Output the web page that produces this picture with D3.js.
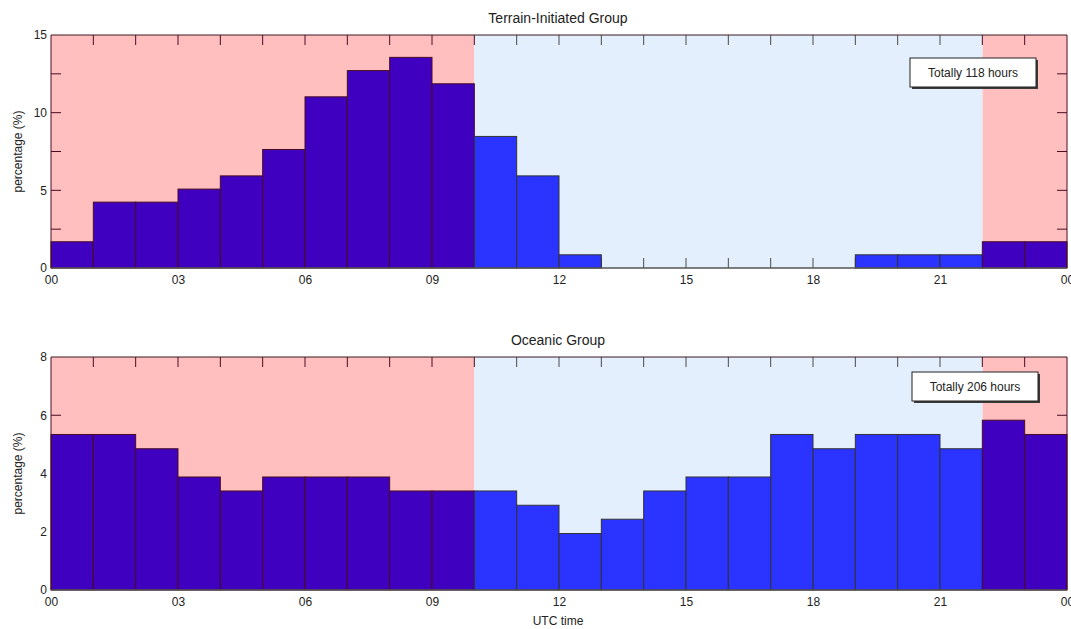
<!DOCTYPE html>
<html>
<head>
<meta charset="utf-8">
<script src="https://cdn.jsdelivr.net/npm/d3@7"></script>
<style>
  body { margin: 0; background: #fff; }
  text { font-family: "Liberation Sans", Arial, sans-serif; fill: #222; }
</style>
</head>
<body>
<div id="chart"></div>
<script>
// hour bins (UTC) and percentage of hours per bin
var hours = [0,1,2,3,4,5,6,7,8,9,10,11,12,13,14,15,16,17,18,19,20,21,22,23];
var terrainPct = [1.69,4.24,4.24,5.08,5.93,7.63,11.02,12.71,13.56,11.86,8.47,5.93,
                  0.85,0,0,0,0,0,0,0.85,0.85,0.85,1.69,1.69];
var oceanicPct = [5.34,5.34,4.85,3.88,3.40,3.88,3.88,3.88,3.40,3.40,3.40,2.91,
                  1.94,2.43,3.40,3.88,3.88,5.34,4.85,5.34,5.34,4.85,5.83,5.34];
var xTicks = [0,3,6,9,12,15,18,21,24];
var xTickLabels = ["00","03","06","09","12","15","18","21","00"];
var nightSpans = [[0,10],[22,24]];
var daySpans = [[10,22]];

var pink = "#ffbfbf", lightBlue = "#e3effc",
    purple = "#3f00bf", blue = "#2a33ff",
    maroon = "#4a0c22", gray = "#4a4a4a";

var W = 1071, H = 629;
var svg = d3.select("#chart").append("svg")
    .attr("width", W).attr("height", H);

function isNight(h) {
  return nightSpans.some(function(s) { return h >= s[0] && h < s[1]; });
}

function panel(cfg) {
  var x = d3.scaleLinear().domain([0,24]).range([51,1067]);
  var y = d3.scaleLinear().domain([0,cfg.ymax]).range([cfg.bottom,cfg.top]);
  var g = svg.append("g");

  // background spans
  g.selectAll("rect.night").data(nightSpans).enter().append("rect")
    .attr("x", function(d) { return x(d[0]); })
    .attr("width", function(d) { return x(d[1]) - x(d[0]); })
    .attr("y", cfg.top).attr("height", cfg.bottom - cfg.top)
    .attr("fill", pink);
  g.selectAll("rect.day").data(daySpans).enter().append("rect")
    .attr("x", function(d) { return x(d[0]); })
    .attr("width", function(d) { return x(d[1]) - x(d[0]); })
    .attr("y", cfg.top).attr("height", cfg.bottom - cfg.top)
    .attr("fill", lightBlue);

  // ticks (drawn under the bars)
  var tl = 10;
  g.selectAll("line.tt").data(hours.slice(1)).enter().append("line")
    .attr("x1", function(d) { return x(d); }).attr("x2", function(d) { return x(d); })
    .attr("y1", cfg.top).attr("y2", cfg.top + tl)
    .attr("stroke", function(d) { return isNight(d) || d == 10 ? maroon : gray; });
  g.selectAll("line.bt").data(hours.slice(1)).enter().append("line")
    .attr("x1", function(d) { return x(d); }).attr("x2", function(d) { return x(d); })
    .attr("y1", cfg.bottom).attr("y2", cfg.bottom - tl)
    .attr("stroke", function(d) { return isNight(d) ? maroon : gray; });
  g.selectAll("line.lt").data(cfg.yMinor).enter().append("line")
    .attr("x1", x(0)).attr("x2", x(0) + tl)
    .attr("y1", function(d) { return y(d); }).attr("y2", function(d) { return y(d); })
    .attr("stroke", maroon);
  g.selectAll("line.rt").data(cfg.yMinor).enter().append("line")
    .attr("x1", x(24)).attr("x2", x(24) - tl)
    .attr("y1", function(d) { return y(d); }).attr("y2", function(d) { return y(d); })
    .attr("stroke", maroon);

  // bars
  g.selectAll("rect.bar").data(cfg.values).enter().append("rect")
    .attr("x", function(d, i) { return x(hours[i]); })
    .attr("width", function(d, i) { return x(hours[i] + 1) - x(hours[i]); })
    .attr("y", function(d) { return y(d); })
    .attr("height", function(d) { return cfg.bottom - y(d); })
    .attr("fill", function(d, i) { return isNight(hours[i]) ? purple : blue; })
    .attr("stroke", function(d, i) { return isNight(hours[i]) ? maroon : "#333"; })
    .attr("stroke-width", 1)
    .style("display", function(d) { return d > 0 ? null : "none"; });

  // frame
  g.append("line").attr("x1", x(0)).attr("x2", x(24))
    .attr("y1", cfg.top).attr("y2", cfg.top).attr("stroke", "#3a1a22");
  g.append("line").attr("x1", x(0)).attr("x2", x(24))
    .attr("y1", cfg.bottom).attr("y2", cfg.bottom).attr("stroke", "#555").attr("stroke-width", 1.5);
  g.append("line").attr("x1", x(0)).attr("x2", x(0))
    .attr("y1", cfg.top).attr("y2", cfg.bottom).attr("stroke", maroon);
  g.append("line").attr("x1", x(24)).attr("x2", x(24))
    .attr("y1", cfg.top).attr("y2", cfg.bottom).attr("stroke", maroon);

  // axes labels via d3 axes (no tick lines, labels only)
  var ax = g.append("g").attr("transform", "translate(0," + cfg.bottom + ")")
    .call(d3.axisBottom(x).tickValues(xTicks)
      .tickFormat(function(d, i) { return xTickLabels[i]; })
      .tickSize(0).tickPadding(7));
  ax.select(".domain").remove();
  ax.selectAll("text").attr("font-size", 12).attr("font-family", "Liberation Sans, Arial, sans-serif").attr("fill", "#222");

  var ay = g.append("g").attr("transform", "translate(" + x(0) + ",0)")
    .call(d3.axisLeft(y).tickValues(cfg.yLabels).tickFormat(d3.format("d"))
      .tickSize(0).tickPadding(4));
  ay.select(".domain").remove();
  ay.selectAll("text").attr("font-size", 12).attr("font-family", "Liberation Sans, Arial, sans-serif").attr("fill", "#222");

  // titles
  g.append("text").attr("x", 558).attr("y", cfg.top - 12)
    .attr("text-anchor", "middle").attr("font-size", 14).text(cfg.title);
  g.append("text")
    .attr("transform", "translate(22," + (cfg.top + cfg.bottom) / 2 + ") rotate(-90)")
    .attr("text-anchor", "middle").attr("font-size", 12).text("percentage (%)");

  // total box
  var b = cfg.box;
  g.append("rect").attr("x", b.x + 2).attr("y", b.y + 2).attr("width", b.w).attr("height", b.h)
    .attr("fill", "#3a3a3a");
  g.append("rect").attr("x", b.x).attr("y", b.y).attr("width", b.w).attr("height", b.h)
    .attr("fill", "#fff").attr("stroke", "#222");
  g.append("text").attr("x", b.x + b.w / 2).attr("y", b.y + b.h / 2 + 4)
    .attr("text-anchor", "middle").attr("font-size", 12).text(b.text);
}

panel({ top: 35, bottom: 268, ymax: 15, values: terrainPct,
        yLabels: [0,5,10,15], yMinor: [2.5,5,7.5,10,12.5],
        title: "Terrain-Initiated Group",
        box: { x: 910, y: 58, w: 126, h: 29, text: "Totally 118 hours" } });
panel({ top: 357, bottom: 590, ymax: 8, values: oceanicPct,
        yLabels: [0,2,4,6,8], yMinor: [2,4,6],
        title: "Oceanic Group",
        box: { x: 912, y: 372, w: 126, h: 29, text: "Totally 206 hours" } });

svg.append("text").attr("x", 558).attr("y", 625)
  .attr("text-anchor", "middle").attr("font-size", 12).text("UTC time");
</script>
</body>
</html>
